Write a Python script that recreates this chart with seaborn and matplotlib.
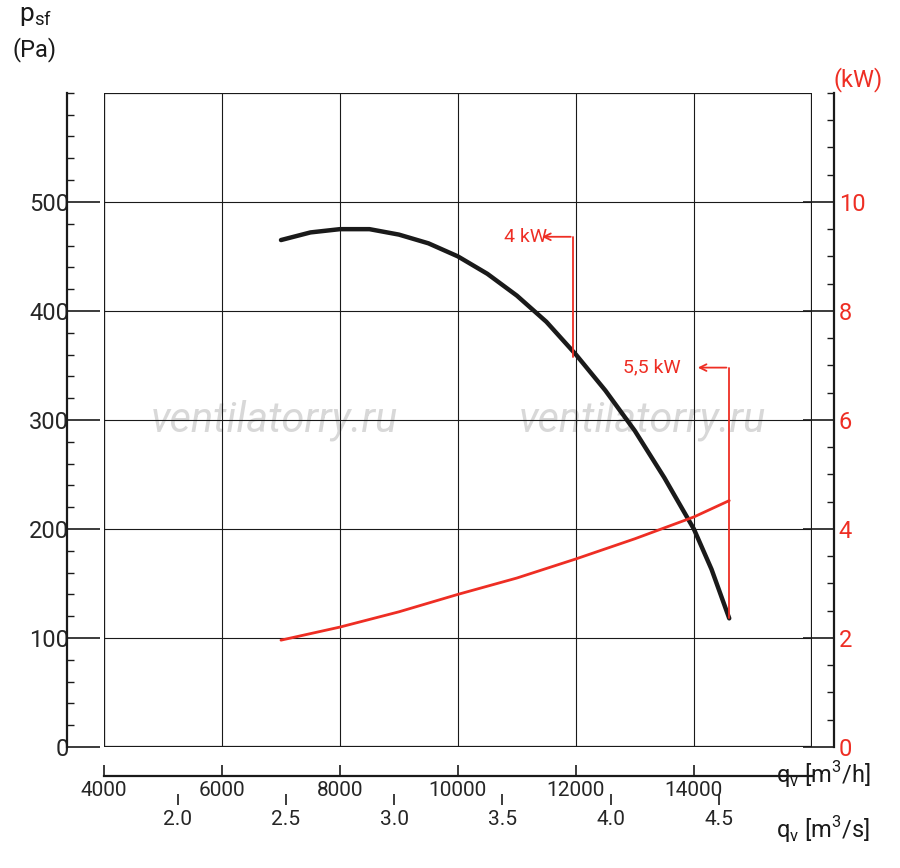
import matplotlib
matplotlib.use("Agg")
import matplotlib.pyplot as plt
import seaborn as sns
import pandas as pd
from matplotlib.patches import Rectangle
from matplotlib.ticker import MultipleLocator

# pressure curve (m3/h, Pa)
q_p = [7000, 7500, 8000, 8500, 9000, 9500, 10000, 10500, 11000, 11500, 12000, 12500, 13000, 13500, 14000, 14300, 14600]
p_sf = [465, 472, 475, 475, 470, 462, 450, 434, 414, 390, 360, 327, 290, 247, 200, 163, 118]
# power curve (m3/h, kW)
q_w = [7000, 8000, 9000, 10000, 11000, 12000, 13000, 14000, 14600]
power = [1.96, 2.2, 2.48, 2.8, 3.1, 3.45, 3.82, 4.22, 4.52]

BLACK = "#1a1a1a"
RED = "#ee2e24"

sns.set_theme(style="white")
plt.rcParams['font.family'] = ['Roboto', 'DejaVu Sans']

fig = plt.figure(figsize=(9, 8.68), dpi=100)
ax = fig.add_axes([0.1156, 0.1394, 0.902 - 0.1156, 0.893 - 0.1394])

sns.lineplot(x=q_p, y=p_sf, ax=ax, color=BLACK, lw=3.2)
ax.set_xlim(4000, 16000)
ax.set_ylim(0, 600)
ax.set_xticks(range(4000, 16000, 2000))
ax.set_yticks(range(0, 600, 100))
ax.yaxis.set_minor_locator(MultipleLocator(20))
ax.grid(True, color=BLACK, lw=0.8)
ax.add_patch(Rectangle((0, 0), 1, 1, transform=ax.transAxes, fill=False, lw=1.6, ec=BLACK, zorder=5))
for s in ["top", "right"]:
    ax.spines[s].set_visible(False)
ax.spines["left"].set_position(("outward", 27))
ax.spines["bottom"].set_position(("outward", 21))
ax.spines["left"].set_color(BLACK)
ax.spines["bottom"].set_color(BLACK)
ax.spines["left"].set_linewidth(1.6)
ax.spines["bottom"].set_linewidth(1.6)
ax.tick_params(axis="y", which="major", direction="in", length=24, width=1.2, color=BLACK, labelsize=17, pad=-2)
ax.tick_params(axis="y", which="minor", direction="in", length=5, width=1, color=BLACK, left=True)
ax.tick_params(axis="x", direction="in", length=8, width=1.2, color=BLACK, labelsize=15, bottom=True)
ax.set_yticklabels([str(v) for v in range(0, 600, 100)])
for lab in ax.get_yticklabels():
    lab.set_x(lab.get_position()[0])
ax.text(-0.12, 1.11, "p$_{\\mathregular{sf}}$", transform=ax.transAxes, fontsize=19, color=BLACK)
ax.text(-0.13, 1.055, "(Pa)", transform=ax.transAxes, fontsize=17, color=BLACK)

# power axis
ax2 = ax.twinx()
sns.lineplot(x=q_w, y=power, ax=ax2, color=RED, lw=2)
ax2.set_ylim(0, 12)
ax2.set_yticks(range(0, 12, 2))
ax2.yaxis.set_minor_locator(MultipleLocator(0.5))
for s in ["top", "left", "bottom"]:
    ax2.spines[s].set_visible(False)
ax2.spines["right"].set_position(("outward", 16))
ax2.spines["right"].set_color(BLACK)
ax2.spines["right"].set_linewidth(1.6)
ax2.tick_params(axis="y", which="major", direction="in", length=22, width=1.2, color=BLACK, labelsize=17, labelcolor=RED, right=True)
ax2.tick_params(axis="y", which="minor", direction="in", length=5, width=1, color=BLACK, right=True)
ax2.text(1.03, 1.01, "(kW)", transform=ax2.transAxes, fontsize=17, color=RED)

# motor limits
ax.plot([11950, 11950], [468, 358], color=RED, lw=1.3)
ax.annotate("", xy=(11380, 468), xytext=(11960, 468),
            arrowprops=dict(arrowstyle="->", color=RED, lw=1.3))
ax.text(10780, 468, "4 kW", color=RED, fontsize=14, va="center")
ax.plot([14590, 14590], [348, 118], color=RED, lw=1.3)
ax.annotate("", xy=(14020, 348), xytext=(14600, 348),
            arrowprops=dict(arrowstyle="->", color=RED, lw=1.3))
ax.text(12800, 348, "5,5 kW", color=RED, fontsize=14, va="center")

# watermark
for xw in [0.24, 0.76]:
    ax.text(xw, 0.5, "ventilatorry.ru", transform=ax.transAxes, fontsize=30, style="italic",
            color="#d8d8d8", ha="center", va="center", zorder=0)

# m3/s axis
a, b = 3668.0, -2084.0
sec = ax.secondary_xaxis(-0.089, functions=(lambda x: (x - b) / a, lambda q: a * q + b))
sec.set_xticks([2.0, 2.5, 3.0, 3.5, 4.0, 4.5])
sec.set_xticklabels(["2.0", "2.5", "3.0", "3.5", "4.0", "4.5"])
sec.spines["bottom"].set_color(BLACK)
sec.spines["bottom"].set_linewidth(1.6)
sec.spines["bottom"].set_bounds(4000, 17000)
sec.tick_params(direction="in", length=8, width=1.2, color=BLACK, labelsize=15)

fig.text(0.862, 0.098, "q$_{\\mathregular{v}}$ [m$^{\\mathregular{3}}$/h]", fontsize=17, color=BLACK)
fig.text(0.862, 0.035, "q$_{\\mathregular{v}}$ [m$^{\\mathregular{3}}$/s]", fontsize=17, color=BLACK)

fig.savefig("out.png", dpi=100)
